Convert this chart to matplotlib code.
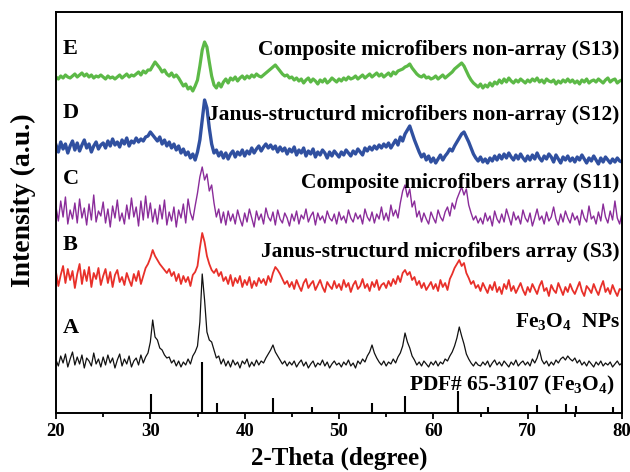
import numpy as np
import matplotlib
matplotlib.use("Agg")
import matplotlib.pyplot as plt

plt.rcParams["font.family"] = ["Liberation Serif", "DejaVu Serif"]
plt.rcParams["font.weight"] = "bold"
plt.rcParams["mathtext.fontset"] = "custom"
plt.rcParams["mathtext.rm"] = "Liberation Serif:bold"
plt.rcParams["mathtext.it"] = "Liberation Serif:bold"
plt.rcParams["mathtext.bf"] = "Liberation Serif:bold"

# 2-theta grid, 0.25 deg steps from 20 to 80
two_theta = 20 + 0.25 * np.arange(241)

# intensities (a.u.), relative to each trace's baseline
int_E = [3, 1, 4, 2, 5, 3, 2, 4, 6, 3, 5, 7, 4, 6, 3, 5, 2, 4, 3, 5,
         3, 1, 4, 2, 3, 1, 3, 5, 2, 4, 6, 3, 5, 4, 6, 8, 5, 9, 7, 10,
         10, 14, 18, 15, 12, 8, 10, 6, 4, 7, 3, 5, 2, -2, -6, -4, -9, -7, -11, -6,
         0, 14, 30, 38, 33, 18, 4, -5, -8, -3, -7, -2, 1, -3, 2, 0, 3, -1, 2, 4,
         1, 4, 2, 5, 3, 6, 4, 3, 5, 7, 9, 11, 13, 15, 12, 9, 6, 4, 5, 2,
         3, 0, 2, -1, 1, -3, 0, 2, -2, 1, -1, -4, 0, -2, 1, -3, -1, 2, 0, -2,
         1, -1, 2, 0, 3, 1, 2, 4, 1, 3, 5, 2, 4, 6, 3, 5, 7, 4, 6, 3,
         5, 7, 4, 8, 6, 9, 10, 11, 13, 14, 16, 12, 9, 6, 4, 3, 5, 2, 3, 1,
         2, 4, 1, 3, 5, 2, 4, 6, 8, 11, 13, 15, 17, 14, 9, 4, 0, -3, -5, -7,
         -4, -8, -5, -7, -3, -6, -2, -4, 0, -3, 1, -2, 2, -1, -3, 0, -2, 1, -1, -3,
         0, -2, 1, -1, 2, -2, 0, -3, 1, -1, -2, 0, -4, -1, -3, 0, -2, 1, -2, 0,
         -3, -1, -4, 0, -2, 1, -3, -1, 0, -2, 1, -1, -3, 0, 2, -2, 0, 1, -3, -1,
         0]

int_D = [5, -2, 8, 1, 6, -3, 4, 9, 0, 7, -1, 5, 10, 2, 6, -2, 4, 8, 1, 5,
         7, 2, 9, 4, 11, 5, 8, 3, 10, 6, 12, 4, 9, 7, 12, 8, 11, 9, 13, 14,
         18, 15, 12, 9, 13, 6, 10, 4, 8, 2, 6, 0, 4, -3, 1, -5, -2, -8, -4, -10,
         -2, 10, 30, 50, 42, 22, 6, -3, 0, -6, -2, -8, -3, -9, -4, -1, -7, -2, -5, 0,
         -6, -1, -4, 2, -3, 1, 4, -1, 3, 6, 2, 5, 1, 4, -2, 3, -1, 2, -4, 1,
         -2, 3, -5, 0, -3, 2, -6, -1, -4, 1, -7, -2, -5, 0, -3, -8, -2, -6, -1, -4,
         -7, -2, -5, 0, -3, -6, -1, -4, 1, -2, -5, 2, -1, 3, 0, 4, 1, 5, 2, 6,
         3, 7, 2, 6, 10, 5, 13, 9, 16, 20, 24, 17, 10, 4, -2, -7, -4, -10, -6, -12,
         -8, -13, -9, -5, -10, -6, -3, 1, -1, 4, 8, 12, 16, 18, 13, 8, 2, -4, -8, -11,
         -7, -12, -9, -13, -8, -11, -6, -10, -5, -9, -4, -8, -3, -7, -10, -5, -9, -4, -8, -11,
         -6, -10, -5, -9, -3, -8, -11, -6, -9, -4, -7, -12, -5, -9, -13, -7, -10, -6, -11, -8,
         -12, -7, -10, -5, -9, -13, -8, -11, -6, -10, -14, -8, -12, -7, -10, -13, -9, -12, -8, -11,
         -12]

int_C = [8, -6, 14, -2, 18, -9, 5, -4, 12, -8, 16, -3, 7, -10, 11, -5, 20, -7, 4, -1,
         13, -8, 6, -12, 9, -3, 15, -6, 2, -9, 10, -4, 17, -2, 8, -11, 14, -5, 19, -3,
         12, -7, 6, -9, 10, -4, 15, -10, 3, -6, 8, -12, 5, -3, 11, -8, 16, 2, -5, 9,
         22, 38, 48, 35, 41, 24, 30, 12, -2, 6, -8, 3, -10, 4, -6, 1, -9, 5, -4, -11,
         2, -7, 6, -3, -12, 4, -5, 1, -9, 7, -2, -6, 3, -10, 5, -4, -8, 2, -3, -11,
         1, -6, 4, -9, 0, -4, 6, -7, -1, 3, -10, 2, -5, -1, -8, 4, -3, -6, 1, -9,
         3, -5, -1, -8, 5, -3, -7, 2, -4, 0, -9, 6, -2, -6, 3, -8, 1, -4, 8, -5,
         2, -6, 10, -1, 5, -3, 12, 24, 30, 18, 26, 8, 14, -2, 4, -7, 2, -4, -9, 3,
         -3, -8, 5, -2, -6, 3, 8, -1, 12, 6, 16, 22, 28, 20, 26, 10, 2, -5, -1, -8,
         -3, -9, 2, -6, -1, -11, 4, -4, -8, 1, -7, 6, -2, -10, 3, -5, -1, -9, 5, -3,
         -7, 2, -11, -3, 6, -5, -1, -9, 3, -6, -2, 8, -4, -10, 1, -7, 4, -3, -8, 2,
         -5, -1, -10, 5, -3, -7, 9, -4, -1, -9, 3, -6, 11, -2, -8, 4, -5, 14, -3, -9,
         2]

int_B = [6, -8, 3, 12, -5, 9, -2, 7, -10, 4, 14, -6, 8, -3, 11, -9, 5, -1, 10, -7,
         2, 9, -5, 6, -9, 3, 8, -4, 1, -7, 5, -2, -8, 4, -3, 7, -6, 2, 10, 14,
         20, 28, 22, 18, 14, 11, 8, 5, 9, 2, 6, -3, 4, -6, 2, -4, 1, -8, 3, 6,
         12, 30, 45, 36, 22, 14, 8, 5, 9, 2, 6, -3, 1, -6, 3, -8, 0, -5, 2, -9,
         -2, -7, 1, -10, -3, -8, 0, -5, -1, -7, 2, -4, 5, 11, 8, 4, -1, -6, -3, -9,
         -4, -11, -2, -8, -13, -5, -1, -10, -6, -3, -12, -7, -2, -9, -14, -4, -8, -11, -3, -10,
         -6, -12, -2, -9, -5, -14, -7, -3, -11, -8, -1, -10, -6, -13, -4, -9, -2, -12, -7, -5,
         -10, -3, -8, -1, -6, 2, -4, 5, 8, 3, 6, -2, 1, -7, -3, -10, -5, -12, -8, -4,
         -11, -6, -13, -2, -9, -5, -12, -1, 4, 10, 14, 18, 12, 15, 5, 0, -6, -3, -10, -7,
         -13, -5, -10, -15, -7, -12, -4, -14, -9, -16, -6, -11, -2, -13, -8, -15, -10, -5, -12, -17,
         -9, -14, -6, -11, -16, -8, -3, -13, -10, -18, -7, -12, -15, -5, -11, -17, -9, -14, -6, -12,
         -16, -10, -4, -13, -18, -8, -11, -15, -6, -12, -17, -9, -3, -14, -10, -16, -7, -13, -18, -11,
         -12]

int_A = [2, -4, 6, -1, 8, -5, 3, 10, -3, 5, -2, 7, -6, 4, 1, -4, 9, -2, 3, -5,
         5, -3, 7, -1, 4, -6, 2, 8, -4, 3, -2, 6, -5, 1, 4, -3, 7, -1, 5, 9,
         20, 42, 25, 22, 14, 12, 7, 4, 5, -1, 2, -4, 1, -5, 0, -3, 3, -2, 6, 10,
         16, 40, 88, 62, 30, 22, 20, 12, 4, 6, -2, 3, -4, 1, -5, 2, -3, 0, -6, 1,
         -2, 3, -5, 0, -4, 2, -3, 1, -1, 4, 8, 12, 17, 10, 6, 2, -2, 1, -4, 0,
         -3, 1, -5, -1, 2, -4, 0, -6, -2, 1, -5, -1, -3, 2, -4, 0, -6, -2, 1, -3,
         -1, -5, 0, -3, 2, -4, -1, -6, 1, -2, 3, 0, 6, 10, 17, 9, 4, 0, -3, 1,
         -4, 0, -2, 3, -1, 5, 9, 16, 29, 20, 14, 6, 2, -3, 0, -4, 1, -2, -5, 0,
         -3, 1, -4, 0, -2, 3, 1, 6, 10, 16, 24, 35, 26, 18, 8, 3, -1, -4, 0, -3,
         -4, 0, -3, 1, -5, -1, 2, -3, 0, -4, 1, -2, -5, 0, -3, 2, -4, -1, 1, -3,
         0, -4, 3, -1, 4, 12, 2, -2, 1, -4, 0, -3, 2, -1, 3, 5, 2, 6, 3, 1,
         4, -1, 2, -3, 0, -4, 1, -2, -5, 0, -3, 1, -4, -1, -3, 0, -5, -2, 1, -3,
         -1]

# PDF# 65-3107 reference lines
pdf_pos = [30.1, 35.45, 37.05, 43.05, 47.15, 53.45, 57.0, 62.6, 65.75, 71.0, 74.05, 75.1, 79.0]
pdf_int = [19, 51, 10, 15, 6, 10, 17, 22, 6, 8, 9, 7, 6]

labels = ["A", "B", "C", "D", "E"]
names = [r"Fe$_3$O$_4$  NPs",
         "Janus-structurd microfibers array (S3)",
         "Composite microfibers array (S11)",
         "Janus-structurd microfibers non-array (S12)",
         "Composite microfibers non-array (S13)"]


def main():
    fig = plt.figure(figsize=(6.3, 4.72), dpi=100)
    ax = fig.add_axes([56 / 630, 59 / 472, 566 / 630, 401 / 472])

    series = [int_A, int_B, int_C, int_D, int_E]
    colors = ["#111111", "#e8302a", "#8a2c9a", "#3050a0", "#5cb947"]
    widths = [0.9, 1.3, 1.0, 2.4, 2.3]
    offsets = [51, 135, 198, 263, 333]
    for vals, c, lw, off in zip(series, colors, widths, offsets):
        ax.plot(two_theta, np.array(vals) + off, color=c, lw=lw)

    ax.vlines(pdf_pos, 0, pdf_int, color="black", lw=1.5)

    # letters on the left, sample names on the right
    letter_y = [85, 168, 234, 300, 364]
    name_y = [92, 161, 230, 298, 363]
    for lab, ly in zip(labels, letter_y):
        ax.text(20.7, ly, lab, fontsize=16, fontweight="bold", va="center", ha="left")
    for nm, ny in zip(names, name_y):
        ax.text(79.75, ny, nm, fontsize=15.5, fontweight="bold", va="center", ha="right")
    ax.text(79.3, 28, r"PDF# 65-3107 (Fe$_3$O$_4$)", fontsize=15.5,
            fontweight="bold", va="center", ha="right")

    ax.set_xlim(20, 80)
    ax.set_ylim(0, 401)
    ax.set_xticks(np.arange(20, 81, 10))
    ax.set_xticks(np.arange(25, 80, 10), minor=True)
    ax.set_yticks([])
    ax.tick_params(axis="x", which="major", direction="out", length=4, width=1.3,
                   labelsize=13.5, pad=3)
    ax.tick_params(axis="x", which="minor", direction="out", length=3, width=1.3)
    for lbl in ax.get_xticklabels():
        lbl.set_fontweight("bold")
    for s in ax.spines.values():
        s.set_linewidth(1.4)

    ax.set_xlabel("2-Theta (degree)", fontsize=18, fontweight="bold", labelpad=5)
    ax.set_ylabel("Intensity (a.u.)", fontsize=20, fontweight="bold")
    ax.yaxis.set_label_coords(-0.036, 0.53)

    fig.savefig("out.png", dpi=100)


if __name__ == "__main__":
    main()
